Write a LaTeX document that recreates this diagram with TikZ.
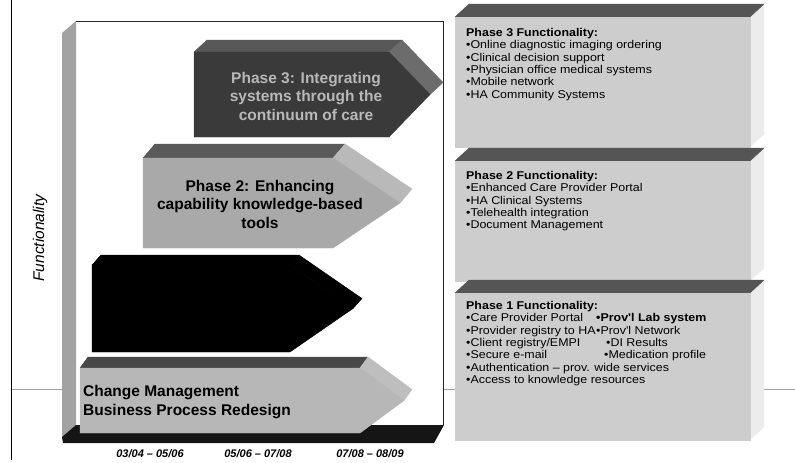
\documentclass[tikz,border=0pt]{standalone}
\usepackage{fontspec}
\setmainfont{Liberation Sans}
\newfontfamily\listfont[FakeStretch=1.1]{Liberation Sans}

% shades of the roadmap
\definecolor{pthreefront}{HTML}{3A3A3A}
\definecolor{pthreetop}{HTML}{585858}
\definecolor{pthreeside}{HTML}{6C6C6C}
\definecolor{pthreetext}{HTML}{B8B8B8}
\definecolor{ptwofront}{HTML}{A9A9A9}
\definecolor{ptwotop}{HTML}{5A5A5A}
\definecolor{ptwoside}{HTML}{B9B9B9}
\definecolor{cmfront}{HTML}{B7B7B7}
\definecolor{cmtop}{HTML}{484848}
\definecolor{cmside}{HTML}{BEBEBE}
\definecolor{wallgray}{HTML}{A2A2A2}
\definecolor{floorgray}{HTML}{151515}
\definecolor{boxface}{HTML}{CDCDCD}
\definecolor{boxtop}{HTML}{555555}
\definecolor{boxside}{HTML}{ECECEC}

% extruded block arrow: left, top, bottom, base of point, tip, depth x, depth y
\newcommand{\blockarrow}[7]{%
  \filldraw[arrowtop] (#1,#2) -- (#4,#2) -- (#4+#6,#2-#7) -- (#1+#6,#2-#7) -- cycle;
  \filldraw[arrowside] (#4,#2) -- (#5,{(#2+#3)/2}) -- (#5+#6,{(#2+#3)/2-#7}) -- (#4+#6,#2-#7) -- cycle;
  \filldraw[arrowfront] (#1,#2) -- (#4,#2) -- (#5,{(#2+#3)/2}) -- (#4,#3) -- (#1,#3) -- cycle;
}

% extruded text panel: top of face, bottom of face
\newcommand{\infopanel}[2]{%
  \filldraw[fill=boxside,draw=boxside,facejoin] (750,#1) -- (764,#1-13) -- (764,#2-13) -- (750,#2) -- cycle;
  \filldraw[fill=boxtop,draw=boxtop,facejoin] (455,#1) -- (750,#1) -- (764,#1-13) -- (469,#1-13) -- cycle;
  \filldraw[fill=boxface,draw=boxface,facejoin] (455,#1) rectangle (750,#2);
}

\begin{document}
\begin{tikzpicture}[x=1pt,y=-1pt,
  facejoin/.style={line width=0.4pt,line join=round},
  axisline/.style={draw=gray!75,line width=0.7pt},
  frameline/.style={draw=black,line width=1.1pt},
  edgeline/.style={draw=black!85,line width=0.7pt},
  arrowlabel/.style={font=\bfseries\fontsize{15.5}{18.5}\selectfont,align=center,inner sep=0pt},
  boxtext/.style={font=\listfont\fontsize{11.3}{12.4}\selectfont,align=left,inner sep=0pt,anchor=north west},
  datelabel/.style={font=\bfseries\itshape\fontsize{11}{13}\selectfont,inner sep=0pt},
  axislabel/.style={font=\itshape\fontsize{15.5}{18}\selectfont,inner sep=0pt,rotate=90},
  shades/.style n args={3}{
    arrowfront/.style={fill=#1,draw=#1,facejoin},
    arrowtop/.style={fill=#2,draw=#2,facejoin},
    arrowside/.style={fill=#3,draw=#3,facejoin}}
]
\useasboundingbox (0,0) rectangle (795,463);

% guide lines running behind everything
\draw[frameline] (11.5,0) -- (11.5,460);
\draw[axisline] (11.5,389) -- (795,389);

% the box holding the phases: back wall, side wall, floor
\fill[white] (76,21) rectangle (443,425);
\draw[edgeline] (76,21) -- (443,21) -- (443,425);
\fill[wallgray] (62,33) -- (76,21) -- (76,425) -- (62,437) -- cycle;
\fill[floorgray] (62,437) -- (76,425) -- (444,425) -- (434,443) -- (63,443) -- cycle;

% Phase 3
\begin{scope}[shades={pthreefront}{pthreetop}{pthreeside}]
  \blockarrow{194}{52}{137}{389}{430}{13}{12}
\end{scope}
\node[arrowlabel,text=pthreetext] (pthree) at (306,96) {Phase 3: Integrating\\systems through the\\continuum of care};

% Phase 2
\begin{scope}[shades={ptwofront}{ptwotop}{ptwoside}]
  \blockarrow{143}{158}{248}{333}{400}{12}{14}
\end{scope}
\node[arrowlabel] (ptwo) at (260,204) {Phase 2: Enhancing\\capability knowledge-based\\tools};

% Phase 1
\begin{scope}[shades={black}{black}{black}]
  \blockarrow{92}{265}{352}{290}{353}{9}{10}
\end{scope}

% change management runs underneath all phases
\begin{scope}[shades={cmfront}{cmtop}{cmside}]
  \blockarrow{80}{368}{433}{360}{404}{8}{11}
\end{scope}
\node[arrowlabel,align=left,anchor=west] (cm) at (83,402) {Change Management\\Business Process Redesign};

% time axis
\node[datelabel] (dateone) at (150,454) {03/04 – 05/06};
\node[datelabel] (datetwo) at (258,454) {05/06 – 07/08};
\node[datelabel] (datethree) at (370,454) {07/08 – 08/09};
\node[axislabel] (functionality) at (40,238) {Functionality};

% functionality lists
\infopanel{17}{147}
\node[boxtext] (listthree) at (466,28) {\textbf{Phase 3 Functionality:}\\
•Online diagnostic imaging ordering\\
•Clinical decision support\\
•Physician office medical systems\\
•Mobile network\\
•HA Community Systems};

\infopanel{161}{281}
\node[boxtext] (listtwo) at (466,171) {\textbf{Phase 2 Functionality:}\\
•Enhanced Care Provider Portal\\
•HA Clinical Systems\\
•Telehealth integration\\
•Document Management};

\infopanel{293}{440}
\node[boxtext] (listone) at (466,301) {\textbf{Phase 1 Functionality:}\\
•Care Provider Portal\\
•Provider registry to HA\\
•Client registry/EMPI\\
•Secure e-mail\\
•Authentication – prov. wide services\\
•Access to knowledge resources};
\node[boxtext] (listonemore) at (596,313.4) {\textbf{•Prov'l Lab system}\\
•Prov'l Network\\
\hspace*{10pt}•DI Results\\
\hspace*{8pt}•Medication profile};
\end{tikzpicture}
\end{document}
